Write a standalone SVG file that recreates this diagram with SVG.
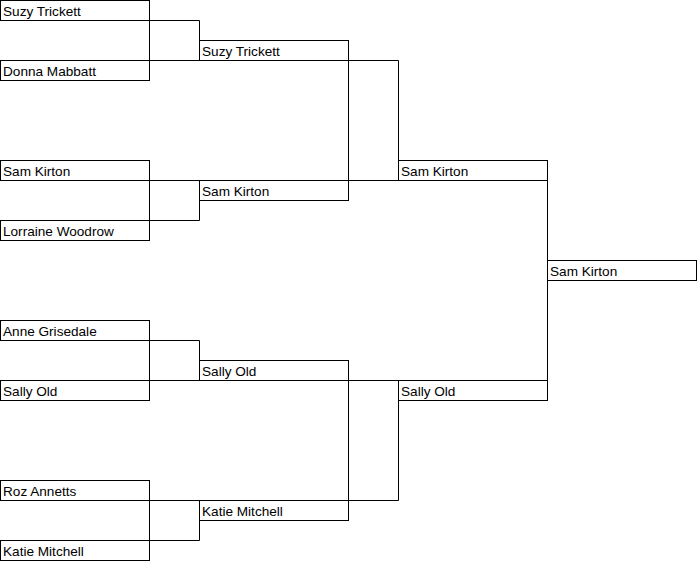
<svg xmlns="http://www.w3.org/2000/svg" width="697" height="561" viewBox="0 0 697 561">
<style>
rect{fill:#fff;stroke:#000;stroke-width:1}
text{font-family:"Liberation Sans",Arial,sans-serif;font-size:13.6px;fill:#000}
.c{fill:none;stroke:#000;stroke-width:1}
</style>
<rect x="0" y="0" width="697" height="561" style="stroke:none"/>
<g id="connectors">
<path class="c" d="M149.5 20.5H199.5V40.5M149.5 20.5V60.5H199.5"/>
<path class="c" d="M149.5 180.5H199.5M149.5 180.5V220.5H199.5V200.5"/>
<path class="c" d="M149.5 340.5H199.5V360.5M149.5 340.5V380.5H199.5"/>
<path class="c" d="M149.5 500.5H199.5M149.5 500.5V540.5H199.5V520.5"/>
<path class="c" d="M348.5 60.5H398.5V160.5M348.5 60.5V180.5H398.5"/>
<path class="c" d="M348.5 380.5H398.5M348.5 380.5V500.5H398.5V400.5"/>
<path class="c" d="M547.5 180.5V260.5M547.5 280.5V380.5"/>
</g>
<g id="r1-suzy"><rect x="0.5" y="0.5" width="149" height="20"/><text x="3" y="16">Suzy Trickett</text></g>
<g id="r1-donna"><rect x="0.5" y="60.5" width="149" height="20"/><text x="3" y="76">Donna Mabbatt</text></g>
<g id="r1-sam"><rect x="0.5" y="160.5" width="149" height="20"/><text x="3" y="176">Sam Kirton</text></g>
<g id="r1-lorraine"><rect x="0.5" y="220.5" width="149" height="20"/><text x="3" y="236">Lorraine Woodrow</text></g>
<g id="r1-anne"><rect x="0.5" y="320.5" width="149" height="20"/><text x="3" y="336">Anne Grisedale</text></g>
<g id="r1-sally"><rect x="0.5" y="380.5" width="149" height="20"/><text x="3" y="396">Sally Old</text></g>
<g id="r1-roz"><rect x="0.5" y="480.5" width="149" height="20"/><text x="3" y="496">Roz Annetts</text></g>
<g id="r1-katie"><rect x="0.5" y="540.5" width="149" height="20"/><text x="3" y="556">Katie Mitchell</text></g>
<g id="r2-suzy"><rect x="199.5" y="40.5" width="149" height="20"/><text x="202" y="56">Suzy Trickett</text></g>
<g id="r2-sam"><rect x="199.5" y="180.5" width="149" height="20"/><text x="202" y="196">Sam Kirton</text></g>
<g id="r2-sally"><rect x="199.5" y="360.5" width="149" height="20"/><text x="202" y="376">Sally Old</text></g>
<g id="r2-katie"><rect x="199.5" y="500.5" width="149" height="20"/><text x="202" y="516">Katie Mitchell</text></g>
<g id="r3-sam"><rect x="398.5" y="160.5" width="149" height="20"/><text x="401" y="176">Sam Kirton</text></g>
<g id="r3-sally"><rect x="398.5" y="380.5" width="149" height="20"/><text x="401" y="396">Sally Old</text></g>
<g id="final-sam"><rect x="547.5" y="260.5" width="149" height="20"/><text x="550" y="276">Sam Kirton</text></g>
</svg>
